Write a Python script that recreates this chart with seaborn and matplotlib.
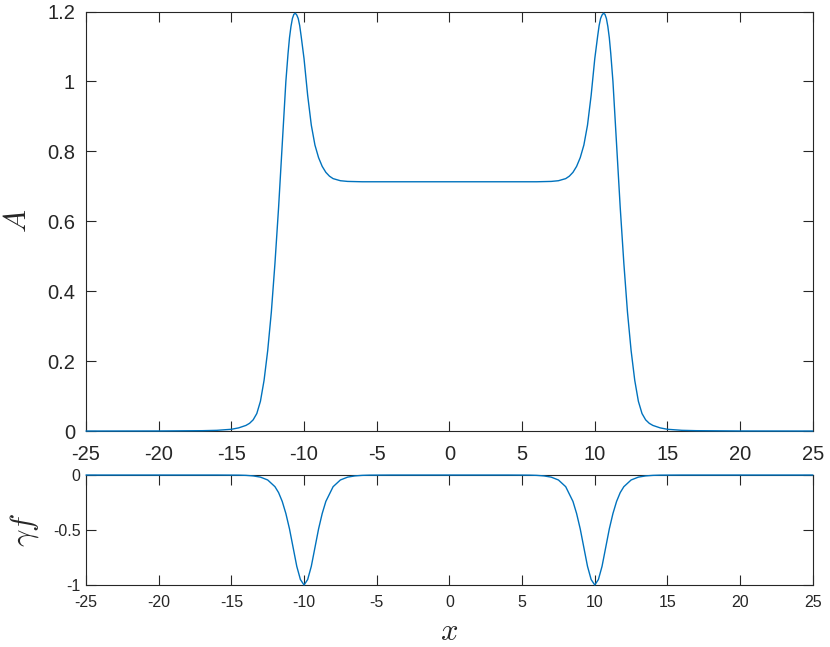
import numpy as np
import pandas as pd
import matplotlib
matplotlib.use("Agg")
import matplotlib.pyplot as plt
import seaborn as sns

# ---- data ----
A_x = [-25, -20, -17, -16, -15, -14.5, -14, -13.75, -13.5, -13.25, -13, -12.75, -12.5, -12.25,
       -12, -11.75, -11.5, -11.25, -11.1, -11, -10.9, -10.8, -10.7, -10.6, -10.5, -10.4, -10.3,
       -10.2, -10, -9.75, -9.5, -9.25, -9, -8.75, -8.5, -8.25, -8, -7.5, -7, -6, 0,
       6, 7, 7.5, 8, 8.25, 8.5, 8.75, 9, 9.25, 9.5, 9.75, 10, 10.2, 10.3, 10.4, 10.5,
       10.6, 10.7, 10.8, 10.9, 11, 11.1, 11.25, 11.5, 11.75, 12, 12.25, 12.5, 12.75, 13,
       13.25, 13.5, 13.75, 14, 14.5, 15, 16, 17, 20, 25]
A_vals = [0, 0.0002, 0.001, 0.002, 0.005, 0.009, 0.016, 0.022, 0.032, 0.05, 0.085, 0.145, 0.23, 0.34,
          0.48, 0.64, 0.82, 1.0, 1.08, 1.125, 1.157, 1.18, 1.192, 1.195, 1.19, 1.18, 1.16,
          1.13, 1.065, 0.96, 0.875, 0.818, 0.782, 0.757, 0.74, 0.729, 0.722, 0.716, 0.714, 0.713, 0.713,
          0.713, 0.714, 0.716, 0.722, 0.729, 0.74, 0.757, 0.782, 0.818, 0.875, 0.96, 1.065, 1.13, 1.16, 1.18, 1.19,
          1.195, 1.192, 1.18, 1.157, 1.125, 1.08, 1.0, 0.82, 0.64, 0.48, 0.34, 0.23, 0.145, 0.085,
          0.05, 0.032, 0.022, 0.016, 0.009, 0.005, 0.002, 0.001, 0.0002, 0]

f_x = [-25, -16, -14.5, -14, -13.5, -13, -12.5, -12, -11.75, -11.5, -11.25, -11, -10.75,
       -10.5, -10.25, -10, -9.75, -9.5, -9.25, -9, -8.75, -8.5, -8, -7.5, -7, -6.5, -6,
       -5.5, -4, 4, 5.5, 6, 6.5, 7, 7.5, 8, 8.5, 8.75, 9, 9.25, 9.5, 9.75, 10, 10.25,
       10.5, 10.75, 11, 11.25, 11.5, 11.75, 12, 12.5, 13, 13.5, 14, 14.5, 16, 25]
f_vals = [0, 0, -0.001, -0.003, -0.008, -0.019, -0.045, -0.106, -0.16, -0.24, -0.35, -0.49, -0.66,
          -0.83, -0.95, -1.0, -0.95, -0.83, -0.66, -0.49, -0.35, -0.24, -0.106, -0.045, -0.019, -0.008, -0.003,
          -0.001, 0, 0, -0.001, -0.003, -0.008, -0.019, -0.045, -0.106, -0.24, -0.35, -0.49, -0.66, -0.83, -0.95, -1.0, -0.95,
          -0.83, -0.66, -0.49, -0.35, -0.24, -0.16, -0.106, -0.045, -0.019, -0.008, -0.003, -0.001, 0, 0]

x_ticks = [-25, -20, -15, -10, -5, 0, 5, 10, 15, 20, 25]
x_ticklabels = ["-25", "-20", "-15", "-10", "-5", "0", "5", "10", "15", "20", "25"]
A_ticks = [0, 0.2, 0.4, 0.6, 0.8, 1.0, 1.2]
A_ticklabels = ["0", "0.2", "0.4", "0.6", "0.8", "1", "1.2"]
f_ticks = [-1, -0.5, 0]
f_ticklabels = ["-1", "-0.5", "0"]

# ---- style ----
sns.set_style("white")
plt.rcParams["font.family"] = ["Liberation Sans", "DejaVu Sans"]
plt.rcParams["mathtext.fontset"] = "cm"

line_color = "#0072BD"
spine_color = "#262626"

fig = plt.figure(figsize=(8.3, 6.47), dpi=100)
ax1 = fig.add_axes([0.1036, 0.3338, 0.8757, 0.6484])
ax2 = fig.add_axes([0.1036, 0.0958, 0.8757, 0.170])

dfA = pd.DataFrame({"x": A_x, "A": A_vals})
dff = pd.DataFrame({"x": f_x, "f": f_vals})

sns.lineplot(data=dfA, x="x", y="A", ax=ax1, color=line_color, linewidth=1.0,
             sort=False, zorder=3, clip_on=False)
sns.lineplot(data=dff, x="x", y="f", ax=ax2, color=line_color, linewidth=1.0,
             sort=False, zorder=3, clip_on=False)

for ax in (ax1, ax2):
    ax.set_xlim(-25, 25)
    ax.set_xticks(x_ticks)
    ax.set_xticklabels(x_ticklabels)
    for s in ax.spines.values():
        s.set_visible(True)
        s.set_color(spine_color)
        s.set_linewidth(0.8)
    ax.tick_params(direction="in", length=7, width=0.8, colors=spine_color,
                   top=True, right=True, bottom=True, left=True)

ax1.set_ylim(0, 1.2)
ax1.set_yticks(A_ticks)
ax1.set_yticklabels(A_ticklabels)
ax1.tick_params(axis="x", labelsize=14.5, pad=10)
ax1.tick_params(axis="y", labelsize=14.5, pad=8)

ax2.set_ylim(-1, 0)
ax2.set_yticks(f_ticks)
ax2.set_yticklabels(f_ticklabels)
ax2.tick_params(axis="x", labelsize=11.5, pad=7)
ax2.tick_params(axis="y", labelsize=11.5, pad=4)

ax1.set_xlabel("")
ax1.set_ylabel(r"$A$", fontsize=22)
ax1.yaxis.set_label_coords(-0.073, 0.5)
ax2.set_ylabel(r"$\gamma f$", fontsize=22)
ax2.yaxis.set_label_coords(-0.062, 0.5)
ax2.set_xlabel(r"$x$", fontsize=22)
ax2.xaxis.set_label_coords(0.5, -0.295)

fig.savefig("out.png", dpi=100)
